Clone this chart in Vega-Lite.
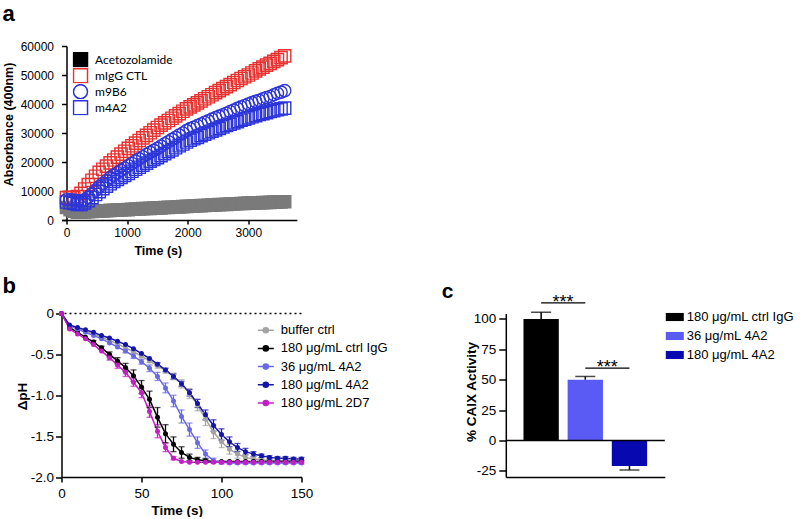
{
"$schema": "https://vega.github.io/schema/vega-lite/v6.json",
"padding": {"left": 2.5, "top": 3, "right": 0, "bottom": 0},
"autosize": {"type": "pad"},
"background": "white",
"config": {
  "view": {"stroke": null},
  "font": "Liberation Sans",
  "axis": {"grid": false, "domainColor": "#000", "tickColor": "#000", "labelColor": "#000", "titleColor": "#000", "domainWidth": 1.5, "tickWidth": 1.5, "labelFont": "Liberation Sans", "titleFont": "Liberation Sans", "labelFlush": false, "labelOverlap": false},
  "legend": {"labelColor": "#000", "labelFont": "Liberation Sans", "padding": 0},
  "title": {"color": "#000", "font": "Liberation Sans", "fontWeight": "bold", "anchor": "start", "frame": "group", "baseline": "alphabetic"}
},
"datasets": {
  "absorb": [
    {"sample":"Acetozolamide","time":0,"abs":4300},{"sample":"Acetozolamide","time":60,"abs":3600},{"sample":"Acetozolamide","time":120,"abs":3000},{"sample":"Acetozolamide","time":180,"abs":2700},{"sample":"Acetozolamide","time":240,"abs":2700},{"sample":"Acetozolamide","time":300,"abs":2800},{"sample":"Acetozolamide","time":360,"abs":2900},{"sample":"Acetozolamide","time":420,"abs":2950},{"sample":"Acetozolamide","time":480,"abs":3000},{"sample":"Acetozolamide","time":540,"abs":3100},{"sample":"Acetozolamide","time":600,"abs":3150},{"sample":"Acetozolamide","time":660,"abs":3200},{"sample":"Acetozolamide","time":720,"abs":3300},{"sample":"Acetozolamide","time":780,"abs":3350},{"sample":"Acetozolamide","time":840,"abs":3400},{"sample":"Acetozolamide","time":900,"abs":3500},{"sample":"Acetozolamide","time":960,"abs":3550},{"sample":"Acetozolamide","time":1020,"abs":3600},{"sample":"Acetozolamide","time":1080,"abs":3700},{"sample":"Acetozolamide","time":1140,"abs":3750},{"sample":"Acetozolamide","time":1200,"abs":3800},{"sample":"Acetozolamide","time":1260,"abs":3900},{"sample":"Acetozolamide","time":1320,"abs":3950},{"sample":"Acetozolamide","time":1380,"abs":4000},{"sample":"Acetozolamide","time":1440,"abs":4100},{"sample":"Acetozolamide","time":1500,"abs":4150},{"sample":"Acetozolamide","time":1560,"abs":4200},{"sample":"Acetozolamide","time":1620,"abs":4300},{"sample":"Acetozolamide","time":1680,"abs":4350},{"sample":"Acetozolamide","time":1740,"abs":4400},{"sample":"Acetozolamide","time":1800,"abs":4500},{"sample":"Acetozolamide","time":1860,"abs":4550},{"sample":"Acetozolamide","time":1920,"abs":4600},{"sample":"Acetozolamide","time":1980,"abs":4700},{"sample":"Acetozolamide","time":2040,"abs":4750},{"sample":"Acetozolamide","time":2100,"abs":4800},{"sample":"Acetozolamide","time":2160,"abs":4900},{"sample":"Acetozolamide","time":2220,"abs":4950},{"sample":"Acetozolamide","time":2280,"abs":5000},{"sample":"Acetozolamide","time":2340,"abs":5100},{"sample":"Acetozolamide","time":2400,"abs":5150},{"sample":"Acetozolamide","time":2460,"abs":5200},{"sample":"Acetozolamide","time":2520,"abs":5300},{"sample":"Acetozolamide","time":2580,"abs":5350},{"sample":"Acetozolamide","time":2640,"abs":5400},{"sample":"Acetozolamide","time":2700,"abs":5500},{"sample":"Acetozolamide","time":2760,"abs":5550},{"sample":"Acetozolamide","time":2820,"abs":5600},{"sample":"Acetozolamide","time":2880,"abs":5700},{"sample":"Acetozolamide","time":2940,"abs":5750},{"sample":"Acetozolamide","time":3000,"abs":5800},{"sample":"Acetozolamide","time":3060,"abs":5850},{"sample":"Acetozolamide","time":3120,"abs":5900},{"sample":"Acetozolamide","time":3180,"abs":5950},{"sample":"Acetozolamide","time":3240,"abs":6000},{"sample":"Acetozolamide","time":3300,"abs":6050},{"sample":"Acetozolamide","time":3360,"abs":6100},{"sample":"Acetozolamide","time":3420,"abs":6150},{"sample":"Acetozolamide","time":3480,"abs":6200},{"sample":"Acetozolamide","time":3540,"abs":6250},{"sample":"Acetozolamide","time":3600,"abs":6300},
    {"sample":"mIgG CTL","time":0,"abs":7700},{"sample":"mIgG CTL","time":60,"abs":7700},{"sample":"mIgG CTL","time":120,"abs":7800},{"sample":"mIgG CTL","time":180,"abs":8100},{"sample":"mIgG CTL","time":240,"abs":9200},{"sample":"mIgG CTL","time":300,"abs":10700},{"sample":"mIgG CTL","time":360,"abs":12200},{"sample":"mIgG CTL","time":420,"abs":13700},{"sample":"mIgG CTL","time":480,"abs":15100},{"sample":"mIgG CTL","time":540,"abs":16400},{"sample":"mIgG CTL","time":600,"abs":17500},{"sample":"mIgG CTL","time":660,"abs":18600},{"sample":"mIgG CTL","time":720,"abs":19700},{"sample":"mIgG CTL","time":780,"abs":20700},{"sample":"mIgG CTL","time":840,"abs":21700},{"sample":"mIgG CTL","time":900,"abs":22700},{"sample":"mIgG CTL","time":960,"abs":23700},{"sample":"mIgG CTL","time":1020,"abs":24700},{"sample":"mIgG CTL","time":1080,"abs":25600},{"sample":"mIgG CTL","time":1140,"abs":26500},{"sample":"mIgG CTL","time":1200,"abs":27400},{"sample":"mIgG CTL","time":1260,"abs":28300},{"sample":"mIgG CTL","time":1320,"abs":29200},{"sample":"mIgG CTL","time":1380,"abs":30100},{"sample":"mIgG CTL","time":1440,"abs":31000},{"sample":"mIgG CTL","time":1500,"abs":31900},{"sample":"mIgG CTL","time":1560,"abs":32700},{"sample":"mIgG CTL","time":1620,"abs":33500},{"sample":"mIgG CTL","time":1680,"abs":34300},{"sample":"mIgG CTL","time":1740,"abs":35100},{"sample":"mIgG CTL","time":1800,"abs":35900},{"sample":"mIgG CTL","time":1860,"abs":36700},{"sample":"mIgG CTL","time":1920,"abs":37500},{"sample":"mIgG CTL","time":1980,"abs":38300},{"sample":"mIgG CTL","time":2040,"abs":39000},{"sample":"mIgG CTL","time":2100,"abs":39700},{"sample":"mIgG CTL","time":2160,"abs":40400},{"sample":"mIgG CTL","time":2220,"abs":41100},{"sample":"mIgG CTL","time":2280,"abs":41800},{"sample":"mIgG CTL","time":2340,"abs":42500},{"sample":"mIgG CTL","time":2400,"abs":43200},{"sample":"mIgG CTL","time":2460,"abs":43900},{"sample":"mIgG CTL","time":2520,"abs":44600},{"sample":"mIgG CTL","time":2580,"abs":45300},{"sample":"mIgG CTL","time":2640,"abs":46000},{"sample":"mIgG CTL","time":2700,"abs":46700},{"sample":"mIgG CTL","time":2760,"abs":47400},{"sample":"mIgG CTL","time":2820,"abs":48100},{"sample":"mIgG CTL","time":2880,"abs":48800},{"sample":"mIgG CTL","time":2940,"abs":49400},{"sample":"mIgG CTL","time":3000,"abs":50000},{"sample":"mIgG CTL","time":3060,"abs":50700},{"sample":"mIgG CTL","time":3120,"abs":51400},{"sample":"mIgG CTL","time":3180,"abs":52100},{"sample":"mIgG CTL","time":3240,"abs":52700},{"sample":"mIgG CTL","time":3300,"abs":53400},{"sample":"mIgG CTL","time":3360,"abs":54000},{"sample":"mIgG CTL","time":3420,"abs":54700},{"sample":"mIgG CTL","time":3480,"abs":55300},{"sample":"mIgG CTL","time":3540,"abs":56000},{"sample":"mIgG CTL","time":3600,"abs":56600},
    {"sample":"m9B6","time":0,"abs":7000},{"sample":"m9B6","time":60,"abs":7000},{"sample":"m9B6","time":120,"abs":6900},{"sample":"m9B6","time":180,"abs":6700},{"sample":"m9B6","time":240,"abs":6600},{"sample":"m9B6","time":300,"abs":7000},{"sample":"m9B6","time":360,"abs":7900},{"sample":"m9B6","time":420,"abs":9000},{"sample":"m9B6","time":480,"abs":10300},{"sample":"m9B6","time":540,"abs":11500},{"sample":"m9B6","time":600,"abs":12600},{"sample":"m9B6","time":660,"abs":13600},{"sample":"m9B6","time":720,"abs":14600},{"sample":"m9B6","time":780,"abs":15500},{"sample":"m9B6","time":840,"abs":16300},{"sample":"m9B6","time":900,"abs":17100},{"sample":"m9B6","time":960,"abs":17900},{"sample":"m9B6","time":1020,"abs":18700},{"sample":"m9B6","time":1080,"abs":19500},{"sample":"m9B6","time":1140,"abs":20300},{"sample":"m9B6","time":1200,"abs":21100},{"sample":"m9B6","time":1260,"abs":21800},{"sample":"m9B6","time":1320,"abs":22600},{"sample":"m9B6","time":1380,"abs":23300},{"sample":"m9B6","time":1440,"abs":24000},{"sample":"m9B6","time":1500,"abs":24700},{"sample":"m9B6","time":1560,"abs":25500},{"sample":"m9B6","time":1620,"abs":26300},{"sample":"m9B6","time":1680,"abs":27000},{"sample":"m9B6","time":1740,"abs":27800},{"sample":"m9B6","time":1800,"abs":28500},{"sample":"m9B6","time":1860,"abs":29300},{"sample":"m9B6","time":1920,"abs":30000},{"sample":"m9B6","time":1980,"abs":30800},{"sample":"m9B6","time":2040,"abs":31500},{"sample":"m9B6","time":2100,"abs":32000},{"sample":"m9B6","time":2160,"abs":32600},{"sample":"m9B6","time":2220,"abs":33100},{"sample":"m9B6","time":2280,"abs":33700},{"sample":"m9B6","time":2340,"abs":34200},{"sample":"m9B6","time":2400,"abs":34800},{"sample":"m9B6","time":2460,"abs":35300},{"sample":"m9B6","time":2520,"abs":35800},{"sample":"m9B6","time":2580,"abs":36300},{"sample":"m9B6","time":2640,"abs":36800},{"sample":"m9B6","time":2700,"abs":37400},{"sample":"m9B6","time":2760,"abs":37900},{"sample":"m9B6","time":2820,"abs":38500},{"sample":"m9B6","time":2880,"abs":39000},{"sample":"m9B6","time":2940,"abs":39500},{"sample":"m9B6","time":3000,"abs":40000},{"sample":"m9B6","time":3060,"abs":40500},{"sample":"m9B6","time":3120,"abs":40900},{"sample":"m9B6","time":3180,"abs":41300},{"sample":"m9B6","time":3240,"abs":41800},{"sample":"m9B6","time":3300,"abs":42200},{"sample":"m9B6","time":3360,"abs":42600},{"sample":"m9B6","time":3420,"abs":43200},{"sample":"m9B6","time":3480,"abs":43700},{"sample":"m9B6","time":3540,"abs":44100},{"sample":"m9B6","time":3600,"abs":44600},
    {"sample":"m4A2","time":0,"abs":6200},{"sample":"m4A2","time":60,"abs":6000},{"sample":"m4A2","time":120,"abs":5700},{"sample":"m4A2","time":180,"abs":5400},{"sample":"m4A2","time":240,"abs":5400},{"sample":"m4A2","time":300,"abs":5900},{"sample":"m4A2","time":360,"abs":6700},{"sample":"m4A2","time":420,"abs":7700},{"sample":"m4A2","time":480,"abs":8800},{"sample":"m4A2","time":540,"abs":9800},{"sample":"m4A2","time":600,"abs":10800},{"sample":"m4A2","time":660,"abs":11700},{"sample":"m4A2","time":720,"abs":12500},{"sample":"m4A2","time":780,"abs":13300},{"sample":"m4A2","time":840,"abs":14000},{"sample":"m4A2","time":900,"abs":14700},{"sample":"m4A2","time":960,"abs":15400},{"sample":"m4A2","time":1020,"abs":16100},{"sample":"m4A2","time":1080,"abs":16800},{"sample":"m4A2","time":1140,"abs":17500},{"sample":"m4A2","time":1200,"abs":18200},{"sample":"m4A2","time":1260,"abs":18900},{"sample":"m4A2","time":1320,"abs":19600},{"sample":"m4A2","time":1380,"abs":20300},{"sample":"m4A2","time":1440,"abs":20900},{"sample":"m4A2","time":1500,"abs":21500},{"sample":"m4A2","time":1560,"abs":22200},{"sample":"m4A2","time":1620,"abs":22900},{"sample":"m4A2","time":1680,"abs":23600},{"sample":"m4A2","time":1740,"abs":24200},{"sample":"m4A2","time":1800,"abs":24900},{"sample":"m4A2","time":1860,"abs":25600},{"sample":"m4A2","time":1920,"abs":26200},{"sample":"m4A2","time":1980,"abs":26900},{"sample":"m4A2","time":2040,"abs":27500},{"sample":"m4A2","time":2100,"abs":28000},{"sample":"m4A2","time":2160,"abs":28500},{"sample":"m4A2","time":2220,"abs":29100},{"sample":"m4A2","time":2280,"abs":29600},{"sample":"m4A2","time":2340,"abs":30100},{"sample":"m4A2","time":2400,"abs":30600},{"sample":"m4A2","time":2460,"abs":31100},{"sample":"m4A2","time":2520,"abs":31600},{"sample":"m4A2","time":2580,"abs":32100},{"sample":"m4A2","time":2640,"abs":32600},{"sample":"m4A2","time":2700,"abs":33000},{"sample":"m4A2","time":2760,"abs":33500},{"sample":"m4A2","time":2820,"abs":33900},{"sample":"m4A2","time":2880,"abs":34400},{"sample":"m4A2","time":2940,"abs":34800},{"sample":"m4A2","time":3000,"abs":35200},{"sample":"m4A2","time":3060,"abs":35600},{"sample":"m4A2","time":3120,"abs":36000},{"sample":"m4A2","time":3180,"abs":36400},{"sample":"m4A2","time":3240,"abs":36700},{"sample":"m4A2","time":3300,"abs":37000},{"sample":"m4A2","time":3360,"abs":37400},{"sample":"m4A2","time":3420,"abs":37700},{"sample":"m4A2","time":3480,"abs":38000},{"sample":"m4A2","time":3540,"abs":38300},{"sample":"m4A2","time":3600,"abs":38600}
  ],
  "ph": [
    {"series":"buffer ctrl","time":0,"dph":0,"err":0},{"series":"buffer ctrl","time":5,"dph":-0.15,"err":0},{"series":"buffer ctrl","time":10,"dph":-0.18,"err":0},{"series":"buffer ctrl","time":15,"dph":-0.21,"err":0},{"series":"buffer ctrl","time":20,"dph":-0.25,"err":0},{"series":"buffer ctrl","time":25,"dph":-0.29,"err":0},{"series":"buffer ctrl","time":30,"dph":-0.33,"err":0},{"series":"buffer ctrl","time":35,"dph":-0.37,"err":0},{"series":"buffer ctrl","time":40,"dph":-0.42,"err":0},{"series":"buffer ctrl","time":45,"dph":-0.47,"err":0},{"series":"buffer ctrl","time":50,"dph":-0.52,"err":0.02},{"series":"buffer ctrl","time":55,"dph":-0.58,"err":0.02},{"series":"buffer ctrl","time":60,"dph":-0.64,"err":0.03},{"series":"buffer ctrl","time":65,"dph":-0.70,"err":0.03},{"series":"buffer ctrl","time":70,"dph":-0.77,"err":0.04},{"series":"buffer ctrl","time":75,"dph":-0.86,"err":0.05},{"series":"buffer ctrl","time":80,"dph":-0.98,"err":0.06},{"series":"buffer ctrl","time":85,"dph":-1.12,"err":0.07},{"series":"buffer ctrl","time":90,"dph":-1.29,"err":0.08},{"series":"buffer ctrl","time":95,"dph":-1.45,"err":0.08},{"series":"buffer ctrl","time":100,"dph":-1.57,"err":0.07},{"series":"buffer ctrl","time":105,"dph":-1.66,"err":0.06},{"series":"buffer ctrl","time":110,"dph":-1.72,"err":0.05},{"series":"buffer ctrl","time":115,"dph":-1.76,"err":0.04},{"series":"buffer ctrl","time":120,"dph":-1.78,"err":0.03},{"series":"buffer ctrl","time":125,"dph":-1.79,"err":0.02},{"series":"buffer ctrl","time":130,"dph":-1.80,"err":0.02},{"series":"buffer ctrl","time":135,"dph":-1.80,"err":0.02},{"series":"buffer ctrl","time":140,"dph":-1.80,"err":0.02},{"series":"buffer ctrl","time":145,"dph":-1.80,"err":0.02},{"series":"buffer ctrl","time":150,"dph":-1.80,"err":0.02},
    {"series":"180 μg/mL ctrl IgG","time":0,"dph":0,"err":0},{"series":"180 μg/mL ctrl IgG","time":5,"dph":-0.17,"err":0},{"series":"180 μg/mL ctrl IgG","time":10,"dph":-0.23,"err":0},{"series":"180 μg/mL ctrl IgG","time":15,"dph":-0.29,"err":0},{"series":"180 μg/mL ctrl IgG","time":20,"dph":-0.35,"err":0.02},{"series":"180 μg/mL ctrl IgG","time":25,"dph":-0.42,"err":0.02},{"series":"180 μg/mL ctrl IgG","time":30,"dph":-0.50,"err":0.03},{"series":"180 μg/mL ctrl IgG","time":35,"dph":-0.58,"err":0.04},{"series":"180 μg/mL ctrl IgG","time":40,"dph":-0.66,"err":0.05},{"series":"180 μg/mL ctrl IgG","time":45,"dph":-0.76,"err":0.07},{"series":"180 μg/mL ctrl IgG","time":50,"dph":-0.90,"err":0.08},{"series":"180 μg/mL ctrl IgG","time":55,"dph":-1.05,"err":0.10},{"series":"180 μg/mL ctrl IgG","time":60,"dph":-1.27,"err":0.12},{"series":"180 μg/mL ctrl IgG","time":65,"dph":-1.47,"err":0.11},{"series":"180 μg/mL ctrl IgG","time":70,"dph":-1.60,"err":0.09},{"series":"180 μg/mL ctrl IgG","time":75,"dph":-1.70,"err":0.07},{"series":"180 μg/mL ctrl IgG","time":80,"dph":-1.76,"err":0.04},{"series":"180 μg/mL ctrl IgG","time":85,"dph":-1.79,"err":0.03},{"series":"180 μg/mL ctrl IgG","time":90,"dph":-1.80,"err":0.02},{"series":"180 μg/mL ctrl IgG","time":95,"dph":-1.81,"err":0},{"series":"180 μg/mL ctrl IgG","time":100,"dph":-1.81,"err":0},{"series":"180 μg/mL ctrl IgG","time":105,"dph":-1.81,"err":0},{"series":"180 μg/mL ctrl IgG","time":110,"dph":-1.81,"err":0},{"series":"180 μg/mL ctrl IgG","time":115,"dph":-1.81,"err":0},{"series":"180 μg/mL ctrl IgG","time":120,"dph":-1.81,"err":0},{"series":"180 μg/mL ctrl IgG","time":125,"dph":-1.81,"err":0},{"series":"180 μg/mL ctrl IgG","time":130,"dph":-1.81,"err":0},{"series":"180 μg/mL ctrl IgG","time":135,"dph":-1.81,"err":0},{"series":"180 μg/mL ctrl IgG","time":140,"dph":-1.81,"err":0},{"series":"180 μg/mL ctrl IgG","time":145,"dph":-1.81,"err":0},{"series":"180 μg/mL ctrl IgG","time":150,"dph":-1.81,"err":0},
    {"series":"36 μg/mL 4A2","time":0,"dph":0,"err":0},{"series":"36 μg/mL 4A2","time":5,"dph":-0.15,"err":0},{"series":"36 μg/mL 4A2","time":10,"dph":-0.19,"err":0},{"series":"36 μg/mL 4A2","time":15,"dph":-0.23,"err":0},{"series":"36 μg/mL 4A2","time":20,"dph":-0.27,"err":0},{"series":"36 μg/mL 4A2","time":25,"dph":-0.31,"err":0},{"series":"36 μg/mL 4A2","time":30,"dph":-0.36,"err":0},{"series":"36 μg/mL 4A2","time":35,"dph":-0.41,"err":0},{"series":"36 μg/mL 4A2","time":40,"dph":-0.46,"err":0.02},{"series":"36 μg/mL 4A2","time":45,"dph":-0.52,"err":0.03},{"series":"36 μg/mL 4A2","time":50,"dph":-0.59,"err":0.03},{"series":"36 μg/mL 4A2","time":55,"dph":-0.67,"err":0.04},{"series":"36 μg/mL 4A2","time":60,"dph":-0.77,"err":0.05},{"series":"36 μg/mL 4A2","time":65,"dph":-0.91,"err":0.06},{"series":"36 μg/mL 4A2","time":70,"dph":-1.07,"err":0.07},{"series":"36 μg/mL 4A2","time":75,"dph":-1.26,"err":0.08},{"series":"36 μg/mL 4A2","time":80,"dph":-1.42,"err":0.08},{"series":"36 μg/mL 4A2","time":85,"dph":-1.58,"err":0.07},{"series":"36 μg/mL 4A2","time":90,"dph":-1.72,"err":0.05},{"series":"36 μg/mL 4A2","time":95,"dph":-1.80,"err":0.03},{"series":"36 μg/mL 4A2","time":100,"dph":-1.82,"err":0.02},{"series":"36 μg/mL 4A2","time":105,"dph":-1.83,"err":0.01},{"series":"36 μg/mL 4A2","time":110,"dph":-1.83,"err":0.01},{"series":"36 μg/mL 4A2","time":115,"dph":-1.83,"err":0.01},{"series":"36 μg/mL 4A2","time":120,"dph":-1.83,"err":0.01},{"series":"36 μg/mL 4A2","time":125,"dph":-1.83,"err":0.01},{"series":"36 μg/mL 4A2","time":130,"dph":-1.83,"err":0.01},{"series":"36 μg/mL 4A2","time":135,"dph":-1.83,"err":0.01},{"series":"36 μg/mL 4A2","time":140,"dph":-1.83,"err":0.01},{"series":"36 μg/mL 4A2","time":145,"dph":-1.83,"err":0.01},{"series":"36 μg/mL 4A2","time":150,"dph":-1.83,"err":0.01},
    {"series":"180 μg/mL 4A2","time":0,"dph":0,"err":0},{"series":"180 μg/mL 4A2","time":5,"dph":-0.14,"err":0},{"series":"180 μg/mL 4A2","time":10,"dph":-0.17,"err":0},{"series":"180 μg/mL 4A2","time":15,"dph":-0.20,"err":0},{"series":"180 μg/mL 4A2","time":20,"dph":-0.23,"err":0},{"series":"180 μg/mL 4A2","time":25,"dph":-0.27,"err":0},{"series":"180 μg/mL 4A2","time":30,"dph":-0.30,"err":0},{"series":"180 μg/mL 4A2","time":35,"dph":-0.34,"err":0},{"series":"180 μg/mL 4A2","time":40,"dph":-0.38,"err":0},{"series":"180 μg/mL 4A2","time":45,"dph":-0.43,"err":0},{"series":"180 μg/mL 4A2","time":50,"dph":-0.49,"err":0},{"series":"180 μg/mL 4A2","time":55,"dph":-0.55,"err":0},{"series":"180 μg/mL 4A2","time":60,"dph":-0.62,"err":0.02},{"series":"180 μg/mL 4A2","time":65,"dph":-0.69,"err":0.02},{"series":"180 μg/mL 4A2","time":70,"dph":-0.77,"err":0.03},{"series":"180 μg/mL 4A2","time":75,"dph":-0.86,"err":0.03},{"series":"180 μg/mL 4A2","time":80,"dph":-0.97,"err":0.04},{"series":"180 μg/mL 4A2","time":85,"dph":-1.10,"err":0.05},{"series":"180 μg/mL 4A2","time":90,"dph":-1.24,"err":0.06},{"series":"180 μg/mL 4A2","time":95,"dph":-1.37,"err":0.07},{"series":"180 μg/mL 4A2","time":100,"dph":-1.48,"err":0.07},{"series":"180 μg/mL 4A2","time":105,"dph":-1.57,"err":0.06},{"series":"180 μg/mL 4A2","time":110,"dph":-1.64,"err":0.05},{"series":"180 μg/mL 4A2","time":115,"dph":-1.69,"err":0.04},{"series":"180 μg/mL 4A2","time":120,"dph":-1.72,"err":0.03},{"series":"180 μg/mL 4A2","time":125,"dph":-1.74,"err":0.02},{"series":"180 μg/mL 4A2","time":130,"dph":-1.76,"err":0.02},{"series":"180 μg/mL 4A2","time":135,"dph":-1.77,"err":0.02},{"series":"180 μg/mL 4A2","time":140,"dph":-1.77,"err":0.02},{"series":"180 μg/mL 4A2","time":145,"dph":-1.78,"err":0.02},{"series":"180 μg/mL 4A2","time":150,"dph":-1.78,"err":0.02},
    {"series":"180 μg/mL 2D7","time":0,"dph":0,"err":0},{"series":"180 μg/mL 2D7","time":5,"dph":-0.19,"err":0},{"series":"180 μg/mL 2D7","time":10,"dph":-0.25,"err":0},{"series":"180 μg/mL 2D7","time":15,"dph":-0.31,"err":0},{"series":"180 μg/mL 2D7","time":20,"dph":-0.38,"err":0},{"series":"180 μg/mL 2D7","time":25,"dph":-0.46,"err":0},{"series":"180 μg/mL 2D7","time":30,"dph":-0.54,"err":0.03},{"series":"180 μg/mL 2D7","time":35,"dph":-0.63,"err":0.04},{"series":"180 μg/mL 2D7","time":40,"dph":-0.72,"err":0.05},{"series":"180 μg/mL 2D7","time":45,"dph":-0.84,"err":0.05},{"series":"180 μg/mL 2D7","time":50,"dph":-0.97,"err":0.06},{"series":"180 μg/mL 2D7","time":55,"dph":-1.20,"err":0.07},{"series":"180 μg/mL 2D7","time":60,"dph":-1.44,"err":0.08},{"series":"180 μg/mL 2D7","time":65,"dph":-1.64,"err":0.05},{"series":"180 μg/mL 2D7","time":70,"dph":-1.77,"err":0.02},{"series":"180 μg/mL 2D7","time":75,"dph":-1.81,"err":0},{"series":"180 μg/mL 2D7","time":80,"dph":-1.82,"err":0},{"series":"180 μg/mL 2D7","time":85,"dph":-1.82,"err":0},{"series":"180 μg/mL 2D7","time":90,"dph":-1.82,"err":0},{"series":"180 μg/mL 2D7","time":95,"dph":-1.82,"err":0},{"series":"180 μg/mL 2D7","time":100,"dph":-1.82,"err":0},{"series":"180 μg/mL 2D7","time":105,"dph":-1.82,"err":0},{"series":"180 μg/mL 2D7","time":110,"dph":-1.82,"err":0},{"series":"180 μg/mL 2D7","time":115,"dph":-1.82,"err":0},{"series":"180 μg/mL 2D7","time":120,"dph":-1.82,"err":0},{"series":"180 μg/mL 2D7","time":125,"dph":-1.82,"err":0},{"series":"180 μg/mL 2D7","time":130,"dph":-1.82,"err":0},{"series":"180 μg/mL 2D7","time":135,"dph":-1.82,"err":0},{"series":"180 μg/mL 2D7","time":140,"dph":-1.82,"err":0},{"series":"180 μg/mL 2D7","time":145,"dph":-1.82,"err":0},{"series":"180 μg/mL 2D7","time":150,"dph":-1.82,"err":0}
  ],
  "caix": [
    {"group":"180 μg/mL ctrl IgG","pct":100,"errEnd":105.5},
    {"group":"36 μg/mL 4A2","pct":50,"errEnd":52.7},
    {"group":"180 μg/mL 4A2","pct":-21,"errEnd":-24.2}
  ],
  "sig": [
    {"from":"180 μg/mL ctrl IgG","to":"36 μg/mL 4A2","level":113.3,"label":"***"},
    {"from":"36 μg/mL 4A2","to":"180 μg/mL 4A2","level":59.5,"label":"***"}
  ]
},
"bounds": "flush",
"spacing": 93.5,
"resolve": {"scale": {"x": "independent", "y": "independent", "color": "independent", "fill": "independent", "stroke": "independent", "shape": "independent"}, "legend": {"color": "independent", "fill": "independent", "stroke": "independent", "shape": "independent"}},
"vconcat": [
  {
    "width": 235.3,
    "height": 174,
    "title": {"text": "a", "fontSize": 22, "dx": -59, "offset": 14},
    "data": {"name": "absorb"},
    "resolve": {"scale": {"fill": "independent", "stroke": "independent"}, "legend": {"fill": "independent", "stroke": "independent", "shape": "independent"}, "axis": {"x": "independent", "y": "independent"}},
    "layer": [
      {
        "mark": {"type": "point", "size": 150, "strokeWidth": 1.4, "opacity": 1},
        "encoding": {
          "x": {"field": "time", "type": "quantitative", "title": "Time (s)", "scale": {"domain": [-82.5, 3800], "nice": false, "zero": false},
                "axis": {"values": [0, 1000, 2000, 3000], "format": "d", "title": "Time (s)", "titleFontSize": 12.5, "titleFontWeight": "bold", "titleX": 96.3, "titleY": 30, "titleBaseline": "middle", "labelFontSize": 12, "tickSize": 4, "labelPadding": 3, "labelOverlap": false}},
          "y": {"field": "abs", "type": "quantitative", "title": "Absorbance (400nm)", "scale": {"domain": [0, 60000], "nice": false},
                "axis": {"values": [0, 10000, 20000, 30000, 40000, 50000, 60000], "format": "d", "offset": -5, "title": "Absorbance (400nm)", "titleFontSize": 12.5, "titleFontWeight": "bold", "titleX": -57.9, "titleY": 78, "titleBaseline": "middle", "titleAngle": 270, "labelFontSize": 12, "tickSize": 5, "labelPadding": 8, "labelOverlap": false}},
          "shape": {"field": "sample", "type": "nominal", "scale": {"domain": ["Acetozolamide", "mIgG CTL", "m9B6", "m4A2"], "range": ["square", "square", "circle", "square"]}, "legend": null},
          "fill": {"field": "sample", "type": "nominal", "scale": {"domain": ["Acetozolamide", "mIgG CTL", "m9B6", "m4A2"], "range": ["#7a7a7a", "transparent", "transparent", "transparent"]}, "legend": null},
          "stroke": {"field": "sample", "type": "nominal", "scale": {"domain": ["Acetozolamide", "mIgG CTL", "m9B6", "m4A2"], "range": ["#7a7a7a", "#e8302e", "#2c35d8", "#2c35d8"]}, "legend": null}
        }
      },
      {
        "transform": [{"filter": "datum.time < 0"}],
        "mark": {"type": "point", "size": 150, "strokeWidth": 1.5, "opacity": 1},
        "encoding": {
          "x": {"field": "time", "type": "quantitative", "axis": null},
          "y": {"field": "abs", "type": "quantitative", "axis": null},
          "shape": {"field": "sample", "type": "nominal",
                    "legend": {"orient": "none", "legendX": 11, "legendY": 6, "title": null, "symbolSize": 196, "symbolStrokeWidth": 1.5, "labelFont": "Lato", "labelFontSize": 12, "labelOffset": 6.6, "rowPadding": 0, "clipHeight": 15.3}},
          "fill": {"field": "sample", "type": "nominal", "scale": {"domain": ["Acetozolamide", "mIgG CTL", "m9B6", "m4A2"], "range": ["#000000", "transparent", "transparent", "transparent"]}},
          "stroke": {"field": "sample", "type": "nominal", "scale": {"domain": ["Acetozolamide", "mIgG CTL", "m9B6", "m4A2"], "range": ["#000000", "#e8302e", "#2c35d8", "#2c35d8"]}}
        }
      }
    ]
  },
  {
    "bounds": "flush",
    "spacing": 204.3,
    "resolve": {"scale": {"x": "independent", "y": "independent", "color": "independent", "fill": "independent"}, "legend": {"color": "independent", "fill": "independent"}},
    "hconcat": [
      {
        "width": 240,
        "height": 163.5,
        "title": {"text": "b", "fontSize": 22, "dx": -59, "offset": 9},
        "resolve": {"axis": {"x": "independent", "y": "independent"}},
        "layer": [
          {"data": {"name": "ph"}, "mark": {"type": "line", "strokeWidth": 1.5},
           "encoding": {
             "x": {"field": "time", "type": "quantitative", "title": "Time (s)", "scale": {"domain": [0, 150], "nice": false},
                   "axis": {"values": [0, 50, 100, 150], "title": "Time (s)", "titleFontSize": 13.5, "titleFontWeight": "bold", "titleX": 115.3, "titleY": 33, "titleBaseline": "middle", "labelFontSize": 13.5, "tickSize": 5, "labelPadding": 4, "labelOverlap": false}},
             "y": {"field": "dph", "type": "quantitative", "title": "ΔpH", "scale": {"domain": [-2, 0], "nice": false},
                   "axis": {"values": [-2, -1.5, -1, -0.5, 0], "labelExpr": "datum.value === 0 ? '0' : replace(format(datum.value, '.1f'), '−', '-')", "title": "ΔpH", "titleFontSize": 13.5, "titleFontWeight": "bold", "titleX": -38.7, "titleY": 82.5, "titleBaseline": "middle", "titleAngle": 270, "labelFontSize": 13.5, "tickSize": 6, "labelPadding": 2, "labelOverlap": false}},
             "color": {"field": "series", "type": "nominal", "scale": {"domain": ["buffer ctrl", "180 μg/mL ctrl IgG", "36 μg/mL 4A2", "180 μg/mL 4A2", "180 μg/mL 2D7"], "range": ["#a3a3a3", "#000000", "#6a6ae0", "#1414a6", "#c41ec4"]},
                       "legend": {"orient": "none", "legendX": 195.3, "legendY": 7.7, "title": null, "symbolType": "M-1,0H1M-0.32,0A0.32,0.32 0 1,0 0.32,0A0.32,0.32 0 1,0 -0.32,0Z", "symbolSize": 256, "symbolStrokeWidth": 1.5, "labelFontSize": 13, "labelOffset": 6, "rowPadding": 2.2,
                                  "encode": {"symbols": {"update": {"fill": {"signal": "datum.value === 'buffer ctrl' ? '#a3a3a3' : datum.value === '180 μg/mL ctrl IgG' ? '#000000' : datum.value === '36 μg/mL 4A2' ? '#6a6ae0' : datum.value === '180 μg/mL 4A2' ? '#1414a6' : '#c41ec4'"}, "opacity": {"value": 1}}}}}}
           }},
          {"data": {"values": [{}]}, "mark": {"type": "rule", "strokeDash": [2, 3], "strokeWidth": 1.5, "color": "#000"}, "encoding": {"y": {"datum": 0, "axis": null}}},
          {"data": {"name": "ph"}, "transform": [{"filter": "datum.err > 0"}], "mark": {"type": "errorbar", "ticks": {"size": 6}, "thickness": 1.3},
           "encoding": {
             "x": {"field": "time", "type": "quantitative", "axis": null},
             "y": {"field": "dph", "type": "quantitative", "axis": null},
             "yError": {"field": "err"},
             "color": {"field": "series", "type": "nominal", "legend": null}
           }},
          {"data": {"name": "ph"}, "mark": {"type": "point", "filled": true, "size": 25, "opacity": 1},
           "encoding": {
             "x": {"field": "time", "type": "quantitative", "axis": null},
             "y": {"field": "dph", "type": "quantitative", "axis": null},
             "color": {"field": "series", "type": "nominal", "legend": null}
           }}
        ]
      },
      {
        "width": 159,
        "height": 163.5,
        "title": {"text": "c", "fontSize": 21, "dx": -64, "offset": -8},
        "resolve": {"axis": {"x": "independent", "y": "independent"}},
        "layer": [
          {"data": {"name": "caix"}, "mark": {"type": "bar"},
           "encoding": {
             "x": {"field": "group", "type": "nominal", "scale": {"domain": ["180 μg/mL ctrl IgG", "36 μg/mL 4A2", "180 μg/mL 4A2"], "paddingInner": 0.2, "paddingOuter": 0.4}, "axis": {"labels": false, "ticks": false, "title": null, "domain": true}},
             "y": {"field": "pct", "type": "quantitative", "title": "% CAIX Activity", "scale": {"domain": [-30, 104.5], "nice": false, "zero": false},
                   "axis": {"values": [-25, 0, 25, 50, 75, 100], "labelExpr": "replace(format(datum.value, 'd'), '−', '-')", "title": "% CAIX Activity", "titleFontSize": 13.5, "titleFontWeight": "bold", "titleX": -34.3, "titleY": 78, "titleBaseline": "middle", "titleAngle": 270, "labelFontSize": 13.5, "tickSize": 7, "labelPadding": 3, "labelOverlap": false}},
             "fill": {"field": "group", "type": "nominal", "scale": {"domain": ["180 μg/mL ctrl IgG", "36 μg/mL 4A2", "180 μg/mL 4A2"], "range": ["#000000", "#5a5af5", "#0808b0"]},
                      "legend": {"orient": "none", "legendX": 160, "legendY": -5.5, "title": null, "symbolType": "M-1,-0.45H1V0.45H-1Z", "symbolSize": 324, "symbolStrokeWidth": 0, "labelFontSize": 13, "labelOffset": 3, "rowPadding": 3}}
           }},
          {"data": {"name": "caix"}, "mark": {"type": "rule", "strokeWidth": 1.5, "color": "#000"},
           "encoding": {"x": {"field": "group", "type": "nominal", "axis": null}, "y": {"field": "pct", "type": "quantitative", "axis": null}, "y2": {"field": "errEnd"}}},
          {"data": {"name": "caix"}, "mark": {"type": "tick", "size": 20, "thickness": 1.5, "color": "#000"},
           "encoding": {"x": {"field": "group", "type": "nominal", "axis": null}, "y": {"field": "errEnd", "type": "quantitative", "axis": null}}},
          {"data": {"values": [{}]}, "mark": {"type": "rule", "strokeWidth": 1.5, "color": "#000"}, "encoding": {"y": {"datum": 0, "axis": null}}},
          {"data": {"name": "sig"}, "mark": {"type": "rule", "strokeWidth": 1.2, "color": "#000"},
           "encoding": {"x": {"field": "from", "type": "nominal", "axis": null}, "x2": {"field": "to"}, "y": {"field": "level", "type": "quantitative", "axis": null}}},
          {"data": {"name": "sig"}, "mark": {"type": "text", "fontSize": 18, "baseline": "alphabetic", "align": "center", "dy": 5, "color": "#000"},
           "encoding": {"x": {"field": "from", "type": "nominal", "bandPosition": 1.12, "axis": null}, "y": {"field": "level", "type": "quantitative", "axis": null}, "text": {"field": "label"}}}
        ]
      }
    ]
  }
]
}
